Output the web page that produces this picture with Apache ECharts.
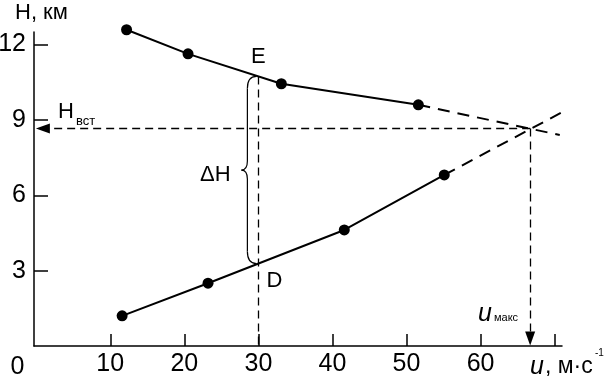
<!DOCTYPE html>
<html>
<head>
<meta charset="utf-8">
<script src="https://cdn.jsdelivr.net/npm/echarts@6/dist/echarts.min.js"></script>
<style>
  html, body { margin: 0; padding: 0; background: #fff; }
  #main { width: 605px; height: 378px; }
</style>
</head>
<body>
<div id="main"></div>
<script>
// values
var upperU = [12.2, 20.5, 33.1, 51.6];
var upperH = [12.59, 11.63, 10.44, 9.6];
var lowerU = [11.6, 23.2, 41.6, 55.1];
var lowerH = [1.2, 2.5, 4.62, 6.81];
var upperExtEnd = [70.7, 8.4];
var lowerExtEnd = [72.1, 9.48];
var uMax = 66.7;   // u_макс
var hInt = 8.66;   // H_вст
var uRef = 30;     // E / D line
var hE = 10.73;
var hD = 3.28;
var xTicks = [10, 20, 30, 40, 50, 60, 70];
var xLabels = [10, 20, 30, 40, 50, 60];
var yTicks = [3, 6, 9, 12];

var FONT = '"Liberation Sans", Arial, sans-serif';

function pairs(us, hs) {
    return us.map(function (u, i) { return [u, hs[i]]; });
}
var upper = pairs(upperU, upperH);
var lower = pairs(lowerU, lowerH);

var chartDom = document.getElementById('main');
var myChart = echarts.init(chartDom);

var pointSeries = function (data) {
    return {
        type: 'line',
        data: data,
        symbol: 'circle',
        symbolSize: 11,
        clip: false,
        itemStyle: { color: '#000' },
        lineStyle: { color: '#000', width: 2 },
        z: 5
    };
};
var extSeries = function (data) {
    return {
        type: 'line',
        data: data,
        symbol: 'none',
        clip: false,
        lineStyle: { color: '#000', width: 2, type: [12, 8] },
        z: 3
    };
};

var option = {
    animation: false,
    grid: { left: 34, right: 43, top: 32, bottom: 32, outerBoundsMode: 'none', containLabel: false },
    xAxis: {
        type: 'value',
        min: -0.3,
        max: 71,
        axisLine: { onZero: false, lineStyle: { color: '#000', width: 1.5 } },
        axisTick: {
            show: true,
            inside: true,
            length: 12,
            customValues: xTicks,
            lineStyle: { color: '#000', width: 1.5 }
        },
        axisLabel: {
            customValues: xLabels,
            margin: 6,
            fontSize: 25,
            color: '#000',
            fontFamily: FONT
        },
        splitLine: { show: false }
    },
    yAxis: {
        type: 'value',
        min: 0,
        max: 12.5,
        axisLine: { show: true, onZero: false, lineStyle: { color: '#000', width: 1.5 } },
        axisTick: {
            show: true,
            inside: true,
            length: 14,
            customValues: yTicks,
            lineStyle: { color: '#000', width: 1.5 }
        },
        axisLabel: {
            customValues: yTicks,
            margin: 8,
            fontSize: 25,
            color: '#000',
            fontFamily: FONT
        },
        splitLine: { show: false }
    },
    series: [
        pointSeries(upper),
        pointSeries(lower),
        extSeries([upper[upper.length - 1], upperExtEnd]),
        extSeries([lower[lower.length - 1], lowerExtEnd]),
        {
            type: 'line',
            data: [],
            markLine: {
                silent: true,
                animation: false,
                symbol: ['none', 'none'],
                label: { show: false },
                lineStyle: { color: '#000', width: 1.3, type: [8, 5] },
                data: [
                    [{ coord: [uRef, hE] }, { coord: [uRef, 0] }],
                    [{ coord: [uMax, hInt], symbol: 'none' },
                     { coord: [0.9, hInt], symbol: 'triangle', symbolSize: [10, 14] }],
                    [{ coord: [uMax, hInt], symbol: 'none' },
                     { coord: [uMax, 0.3], symbol: 'triangle', symbolSize: [10, 14] }]
                ]
            }
        }
    ]
};
myChart.setOption(option);

// annotations placed from the chart's own scales
function px(u, h) { return myChart.convertToPixel({ gridIndex: 0 }, [u, h]); }
var pE = px(uRef, hE), pD = px(uRef, hD);
var bx = pE[0] - 2, arm = bx - 9, tip = bx - 15, mid = (pE[1] + pD[1]) / 2;

var braceStyle = { fill: 'none', stroke: '#000', lineWidth: 1.2 };
function curve(x1, y1, cx, cy, x2, y2) {
    return { type: 'bezierCurve', silent: true,
             shape: { x1: x1, y1: y1, cpx1: cx, cpy1: cy, x2: x2, y2: y2 }, style: braceStyle };
}
function seg(x1, y1, x2, y2) {
    return { type: 'line', silent: true,
             shape: { x1: x1, y1: y1, x2: x2, y2: y2 }, style: braceStyle };
}

function txt(x, y, text, size, extra) {
    var s = {
        text: text, x: x, y: y, fill: '#000',
        font: (extra && extra.italic ? 'italic ' : '') + size + 'px ' + FONT,
        textAlign: (extra && extra.align) || 'center',
        textVerticalAlign: 'middle'
    };
    return { type: 'text', silent: true, style: s };
}

myChart.setOption({
    graphic: [
        curve(bx, pE[1], arm, pE[1], arm, pE[1] + 12),
        seg(arm, pE[1] + 12, arm, mid - 9),
        curve(arm, mid - 9, arm, mid, tip, mid),
        curve(tip, mid, arm, mid, arm, mid + 9),
        seg(arm, mid + 9, arm, pD[1] - 12),
        curve(arm, pD[1] - 12, arm, pD[1], bx, pD[1]),
        txt(15, 13, 'H, км', 22, { align: 'left' }),
        txt(17.5, 367, '0', 25),
        txt(pE[0], pE[1] - 20, 'E', 22),
        txt(pD[0] + 16, pD[1] + 17, 'D', 22),
        txt(pE[0] - 43, mid + 5, 'ΔH', 22),
        txt(58, 112, 'H', 22, { align: 'left' }),
        txt(76, 121, 'вст', 13, { align: 'left' }),
        txt(485, 314, 'u', 25, { italic: true }),
        txt(494, 318, 'макс', 11, { align: 'left' }),
        txt(537, 367, 'u', 25, { italic: true }),
        txt(545, 367, ', м·с', 23, { align: 'left' }),
        txt(595, 353, '-1', 10, { align: 'left' })
    ]
});
</script>
</body>
</html>
